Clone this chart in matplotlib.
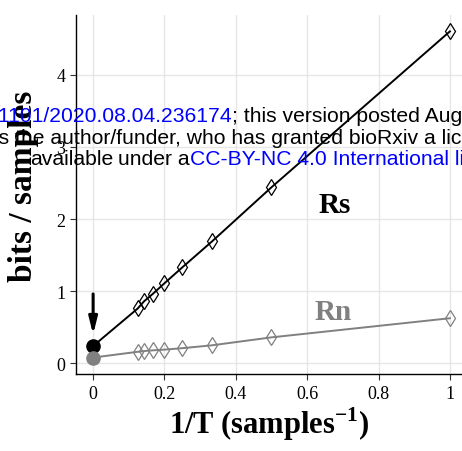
import numpy as np
import matplotlib
matplotlib.use('Agg')
import matplotlib.pyplot as plt

plt.rcParams['font.family'] = 'Liberation Serif'
plt.rcParams['mathtext.fontset'] = 'custom'
plt.rcParams['mathtext.rm'] = 'Liberation Serif'
plt.rcParams['mathtext.bf'] = 'Liberation Serif:bold'

# 1/T values (T = 1..8 samples) and entropy-rate estimates
inv_T = [1.0, 0.5, 1/3, 0.25, 0.2, 1/6, 1/7, 0.125]
rs_vals = [4.60, 2.44, 1.69, 1.33, 1.11, 0.96, 0.86, 0.76]
rn_vals = [0.625, 0.36, 0.25, 0.21, 0.19, 0.18, 0.17, 0.16]
# extrapolated values at 1/T = 0
rs_inf = 0.24
rn_inf = 0.08

xticks = [0, 0.2, 0.4, 0.6, 0.8, 1]
xtick_labels = ['0', '0.2', '0.4', '0.6', '0.8', '1']
yticks = [0, 1, 2, 3, 4]

black = '#000000'
gray = '#808080'

fig = plt.figure(figsize=(4.62, 4.52), dpi=100)
ax = fig.add_axes([0.1645, 0.170, 0.8355, 0.795])

# fitted lines from the intercept through the points
for vals, inf, col in [(rs_vals, rs_inf, black), (rn_vals, rn_inf, gray)]:
    xs = [0] + sorted(inv_T)
    ys = [inf] + [v for _, v in sorted(zip(inv_T, vals))]
    ax.plot(xs, ys, color=col, lw=1.4, zorder=2)
    ax.plot(inv_T, vals, linestyle='none', marker='d', ms=8.6, mfc='none',
            mec=col, mew=0.9, zorder=3)
    ax.plot([0], [inf], marker='o', ms=9.5, color=col, zorder=4)

ax.annotate('', xy=(0, 0.36), xytext=(0, 1.0),
            arrowprops=dict(arrowstyle='-|>,head_width=0.25,head_length=1.0',
                            color='black', lw=2.2), zorder=5)

ax.text(0.676, 2.2, 'Rs', fontsize=21, fontweight='bold', color=black,
        ha='center', va='center')
ax.text(0.673, 0.72, 'Rn', fontsize=21, fontweight='bold', color=gray,
        ha='center', va='center')

ax.set_xlim(-0.048, 1.034)
ax.set_ylim(-0.15, 4.83)
ax.set_xticks(xticks)
ax.set_xticklabels(xtick_labels)
ax.set_yticks(yticks)
ax.tick_params(labelsize=13, length=4, width=0.8, colors='#333333',
               labelcolor='black')
ax.grid(True, color='#e6e6e6', lw=1)
ax.set_axisbelow(True)
for s in ['top', 'right']:
    ax.spines[s].set_visible(False)
for s in ['left', 'bottom']:
    ax.spines[s].set_linewidth(1.0)

ax.set_xlabel(r'1/T (samples$^{\mathbf{-1}}$)', fontsize=22, fontweight='bold',
              labelpad=2)
ax.set_ylabel('bits / samples', fontsize=24, fontweight='bold')
ax.yaxis.set_label_coords(-0.097, 0.525)

# bioRxiv watermark overlay
wm = dict(family='Liberation Sans', fontsize=15.2, va='baseline')
H = 452.0
W = 462.0
fig.text(232 / W, 1 - 122 / H,
         'doi: https://doi.org/10.1101/2020.08.04.236174',
         color='blue', ha='right', **wm)
fig.text(232 / W, 1 - 122 / H,
         '; this version posted August 5, 2020. The copyright holder for this preprint',
         color='black', ha='left', **wm)
fig.text(-6 / W, 1 - 144 / H,
         'is the author/funder, who has granted bioRxiv a license to display the preprint in perpetuity.',
         color='black', ha='left', **wm)
fig.text(30 / W, 1 - 165 / H, 'available', color='black', ha='left', **wm)
fig.text(190 / W, 1 - 165 / H, 'under a', color='black', ha='right', **wm)
fig.text(190 / W, 1 - 165 / H, 'CC-BY-NC 4.0 International license.',
         color='blue', ha='left', **wm)

fig.savefig('out.png', dpi=100)
